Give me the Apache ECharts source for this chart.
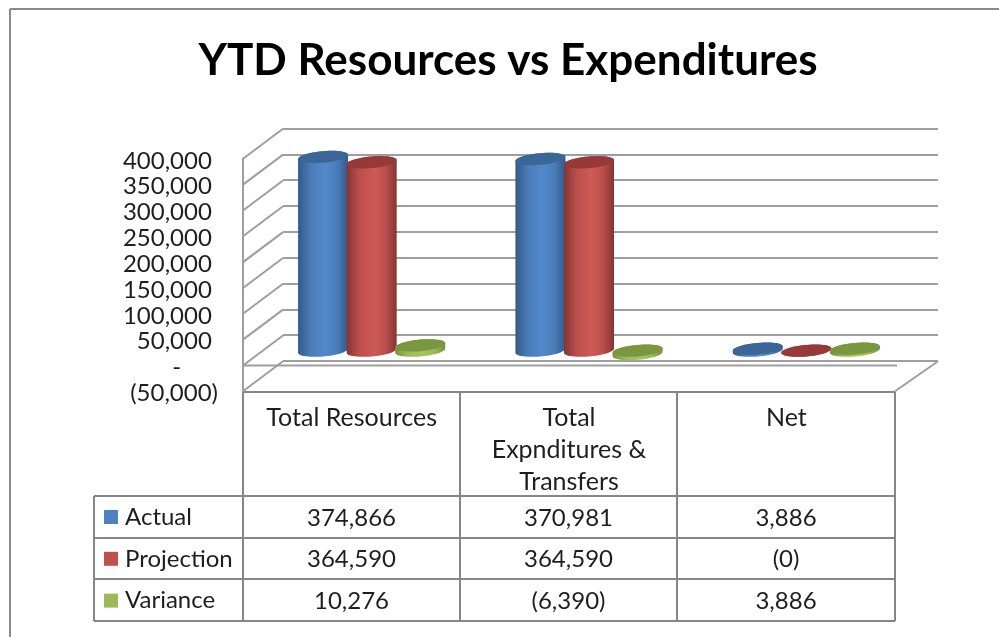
<!DOCTYPE html>
<html><head><meta charset="utf-8">
<script src="https://cdn.jsdelivr.net/npm/echarts@6/dist/echarts.min.js"></script>
<style>html,body{margin:0;padding:0;background:#fff}#c{width:999px;height:637px}</style>
</head><body><div id="c"></div>
<script>
const categories = ['Total Resources', 'Total\nExpnditures &\nTransfers', 'Net'];
const seriesNames = ['Actual', 'Projection', 'Variance'];
const actual = [374866, 370981, 3886];
const projection = [364590, 364590, -0.3];
const variance = [10276, -6390, 3886];
const tickValues = [400000, 350000, 300000, 250000, 200000, 150000, 100000, 50000, 0, -50000];

const FONT = 'Lato';
const LINE = '#9e9e9e';
const TABLE = '#868686';
const TXT = '#1e1e1e';
const DX = 40, DY = 30;
const palette = [
  {edge:'#33598c', mid:'#5389cb', light:'#4a7cb8', cap:'#3a6798', key:'#4f81bd'},
  {edge:'#843634', mid:'#cf5a56', light:'#bb4e4b', cap:'#953a38', key:'#c0504d'},
  {edge:'#76923c', mid:'#a3c45e', light:'#9bbb59', cap:'#7a9740', key:'#9bbb59'}
];

function fmtCell(v){
  const s = Math.round(Math.abs(v)).toLocaleString('en-US');
  return v < 0 ? '(' + s + ')' : s;
}
function fmtTick(v){
  if (v === 0) return '-\u00A0\u00A0\u00A0\u00A0\u00A0\u00A0';
  return v < 0 ? '(' + Math.abs(v).toLocaleString('en-US') + ')' : v.toLocaleString('en-US') + '\u00A0';
}
function ellipsePt(cx, cy, rx, ry, rot, t){
  const x = rx*Math.cos(t), y = ry*Math.sin(t);
  return [cx + x*Math.cos(rot) - y*Math.sin(rot), cy + x*Math.sin(rot) + y*Math.cos(rot)];
}
function cylinderItem(si){
  return function(params, api){
    const cat = api.value(0), v = api.value(1);
    const band = api.size([1,0])[0];
    const c0 = api.coord([cat, 0]), c1 = api.coord([cat, v]);
    const cx = c0[0] + (si-1)*band*0.2235;
    const rx = band*0.1155, ry = 5.8, rot = -0.09;
    const topY = Math.min(c0[1], c1[1]), botY = Math.max(c0[1], c1[1]);
    const pts = [];
    for (let i=0;i<=24;i++) pts.push(ellipsePt(cx, botY, rx, ry, rot, Math.PI - Math.PI*i/24));
    for (let i=0;i<=24;i++) pts.push(ellipsePt(cx, topY, rx, ry, rot, -Math.PI*i/24));
    const capPts = [];
    for (let i=0;i<48;i++) capPts.push(ellipsePt(cx, topY, rx, ry, rot, 2*Math.PI*i/48));
    const p = palette[si];
    return {type:'group', children:[
      {type:'polygon', shape:{points:pts}, style:{fill:{type:'linear',x:0,y:0,x2:1,y2:0,colorStops:[
        {offset:0,color:p.edge},{offset:0.25,color:p.light},{offset:0.55,color:p.mid},{offset:0.78,color:p.light},{offset:1,color:p.edge}]}}},
      {type:'polygon', shape:{points:capPts}, style:{fill:p.cap}}
    ]};
  };
}
function wallItem(params, api){
  const v = api.value(0);
  const f = api.coord([0, v]);
  const x0 = params.coordSys.x, y0 = f[1];
  const kids = [{type:'line', shape:{x1:x0,y1:y0,x2:x0+DX,y2:y0-DY}, style:{stroke:LINE,lineWidth:2}}];
  if (v === 0) kids.push({type:'line', shape:{x1:x0,y1:y0,x2:x0+params.coordSys.width+2,y2:y0}, style:{stroke:LINE,lineWidth:2}});
  if (v === -50000) {
    const xr = x0 + params.coordSys.width;
    kids.push({type:'line', shape:{x1:xr,y1:y0,x2:xr+DX+3,y2:y0-DY}, style:{stroke:LINE,lineWidth:2}});
  }
  return {type:'group', children:kids};
}

const rowY = [392, 496, 538, 579, 621];
const colX = [243, 460, 677, 895];
const rowsData = [actual, projection, variance];
const graphic = [];
function gl(x1,y1,x2,y2,c,w){graphic.push({type:'line',silent:true,shape:{x1,y1,x2,y2},style:{stroke:c,lineWidth:w}});}
gl(10,9,999,9,'#8a8a8a',2);
gl(10,9,10,637,'#8a8a8a',2);
rowY.forEach((y,i)=>gl(i===0?243:94,y,895,y,TABLE,2));
colX.forEach(x=>gl(x,392,x,621,TABLE,2));
gl(94,496,94,621,TABLE,2);
rowsData.forEach((row,r)=>row.forEach((v,c)=>{
  graphic.push({type:'text',silent:true,x:(colX[c]+colX[c+1])/2,y:(rowY[r+1]+rowY[r+2])/2+1,
    style:{text:fmtCell(v),font:'24px '+FONT,fill:TXT,textAlign:'center',textVerticalAlign:'middle'}});
}));

const bands = [
 {left:283,width:655,top:128.5},
 {left:263,width:652,top:144},
 {left:243,width:652,top:158.8},
 {left:243,width:652,top:160.8}
];
const yBase = {type:'value',min:-50000,max:400000,interval:50000,axisTick:{show:false},axisLine:{show:false},axisLabel:{show:false},splitLine:{show:false}};
const xBase = {type:'category',data:categories,axisTick:{show:false},axisLine:{show:false},axisLabel:{show:false},splitLine:{show:false}};

const option = {
  animation:false,
  backgroundColor:'#fff',
  title:{text:'YTD Resources vs Expenditures',left:503,top:34,textAlign:'center',textStyle:{fontFamily:FONT,fontWeight:'bold',fontSize:44,color:'#000'}},
  legend:{orient:'vertical',left:99,top:500,itemWidth:14,itemHeight:14,itemGap:17.8,icon:'rect',selectedMode:false,
    data:seriesNames,textStyle:{fontFamily:FONT,fontSize:24,lineHeight:24,color:TXT,padding:[0,0,0,2]}},
  grid:bands.map(b=>({left:b.left,width:b.width,top:b.top,height:232.5})),
  xAxis:[
    Object.assign({},xBase,{gridIndex:0}),
    Object.assign({},xBase,{gridIndex:1}),
    Object.assign({},xBase,{gridIndex:2,axisLabel:{show:true,interval:0,margin:11,fontFamily:FONT,fontSize:25,lineHeight:32,color:TXT,verticalAlign:'top',align:'center'}}),
    Object.assign({},xBase,{gridIndex:3})
  ],
  yAxis:[
    Object.assign({},yBase,{gridIndex:0,splitLine:{show:true,lineStyle:{color:LINE,width:2}}}),
    Object.assign({},yBase,{gridIndex:1}),
    Object.assign({},yBase,{gridIndex:2,axisLine:{show:true,onZero:false,lineStyle:{color:LINE,width:2}}}),
    Object.assign({},yBase,{gridIndex:3,axisLabel:{show:true,margin:25,fontFamily:FONT,fontSize:24,color:TXT,align:'right',formatter:fmtTick}})
  ],
  series:[
    {type:'custom',name:'wall',xAxisIndex:2,yAxisIndex:2,silent:true,z:1,clip:false,renderItem:wallItem,
     encode:{y:0},data:tickValues.map(v=>[v])}
  ].concat(rowsData.map((row,si)=>({
    type:'custom',name:seriesNames[si],xAxisIndex:1,yAxisIndex:1,z:3+si,clip:false,silent:true,
    itemStyle:{color:palette[si].key},encode:{x:0,y:1},renderItem:cylinderItem(si),
    data:row.map((v,i)=>[i,v])
  }))),
  graphic:graphic
};
echarts.init(document.getElementById('c'),null,{renderer:'canvas'}).setOption(option);
</script></body></html>
